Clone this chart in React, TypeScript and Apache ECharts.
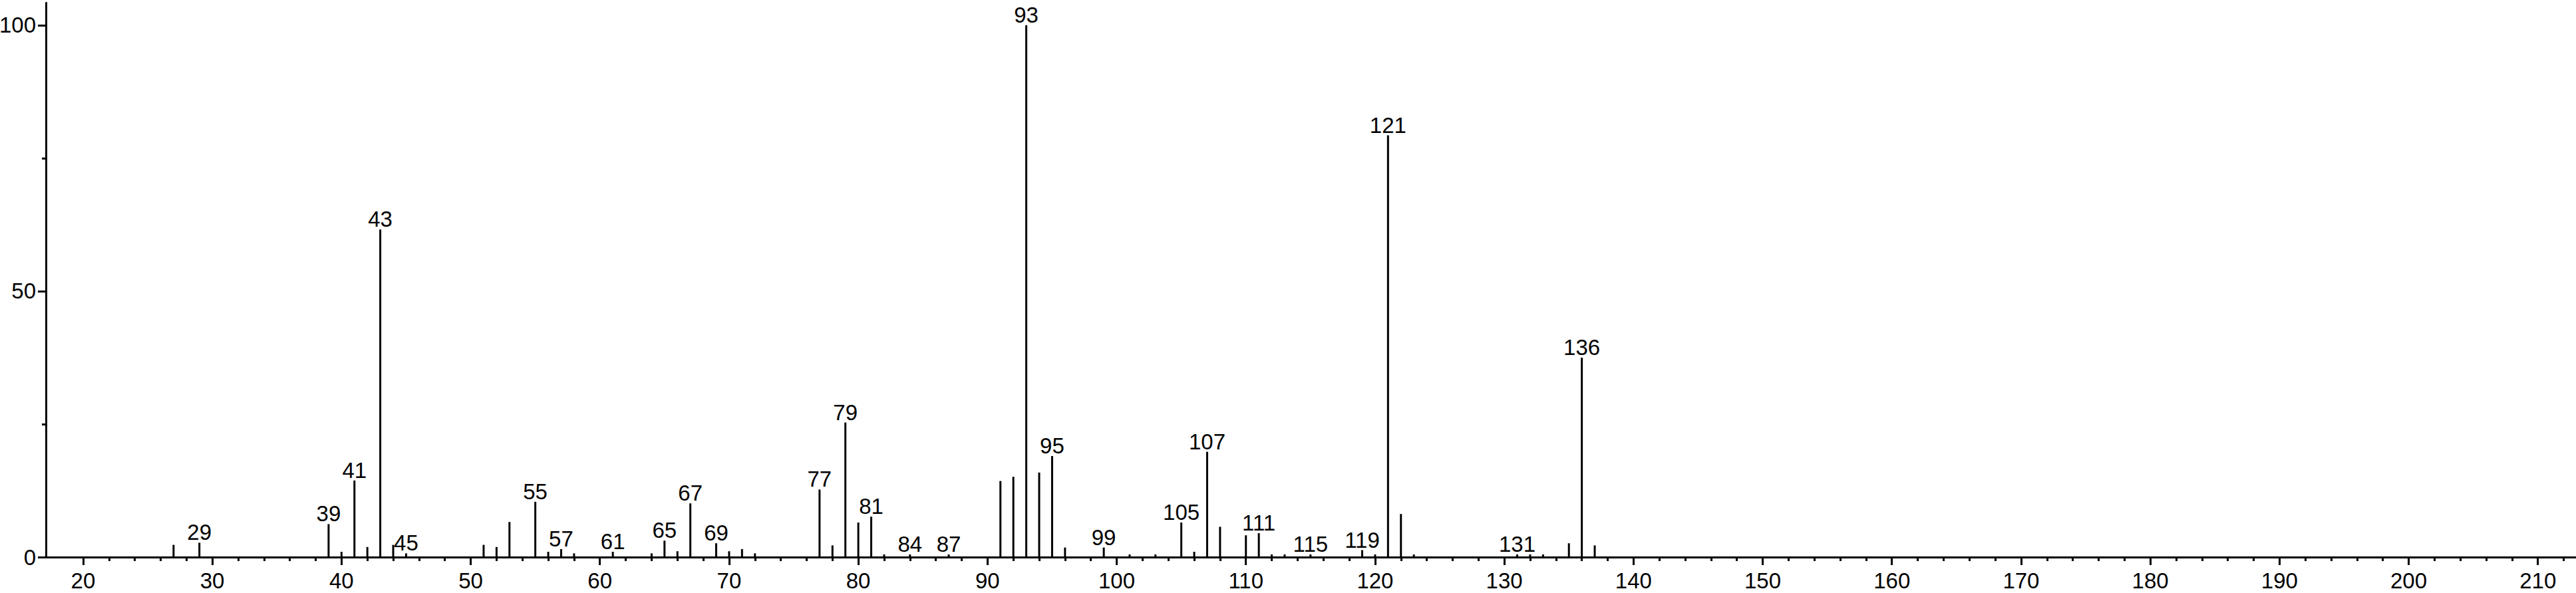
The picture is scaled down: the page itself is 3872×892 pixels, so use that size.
import React, { useEffect, useRef } from "react";
import * as echarts from "echarts";

// m/z values of the peaks
const mzValues = [
  27, 29, 39, 40, 41, 42, 43, 44, 45, 51, 52, 53, 55, 56, 57, 58, 61, 64, 65, 66,
  67, 69, 70, 71, 72, 77, 78, 79, 80, 81, 82, 84, 87, 91, 92, 93, 94, 95, 96, 99,
  101, 103, 105, 106, 107, 108, 110, 111, 112, 113, 115, 119, 120, 121, 122, 123,
  131, 132, 133, 135, 136, 137,
];
// relative intensities (%)
const intensities = [
  2.3, 2.7, 6.2, 1.0, 14.4, 1.9, 61.6, 2.3, 0.7, 2.3, 1.9, 6.6, 10.4, 1.0, 1.5, 0.7, 1.0, 0.7, 3.1, 1.1,
  10.1, 2.6, 1.1, 1.5, 0.7, 12.7, 2.2, 25.3, 6.5, 7.6, 0.5, 0.5, 0.5, 14.3, 15.1, 100, 15.9, 19.0, 1.8, 1.8,
  0.5, 0.5, 6.5, 1.0, 19.8, 5.7, 4.1, 4.5, 0.5, 0.5, 0.5, 1.3, 0.5, 79.3, 8.1, 0.5,
  0.5, 0.5, 0.5, 2.6, 37.5, 2.2,
];
// peaks that carry an m/z label
const labeledMz = [
  29, 39, 41, 43, 45, 55, 57, 61, 65, 67, 69, 77, 79, 81, 84, 87, 93, 95, 99, 105,
  107, 111, 115, 119, 121, 131, 136,
];
// axis ticks
const xMajorTicks = [20, 30, 40, 50, 60, 70, 80, 90, 100, 110, 120, 130, 140, 150, 160, 170, 180, 190, 200, 210];
const xMinorTicks = [
  22, 24, 26, 28, 32, 34, 36, 38, 42, 44, 46, 48, 52, 54, 56, 58, 62, 64, 66, 68,
  72, 74, 76, 78, 82, 84, 86, 88, 92, 94, 96, 98, 102, 104, 106, 108, 112, 114, 116, 118,
  122, 124, 126, 128, 132, 134, 136, 138, 142, 144, 146, 148, 152, 154, 156, 158,
  162, 164, 166, 168, 172, 174, 176, 178, 182, 184, 186, 188, 192, 194, 196, 198,
  202, 204, 206, 208, 212,
];
const yMajorTicks = [0, 50, 100];
const yMinorTicks = [25, 75];

const X_MIN = 17.12;
const X_MAX = 212.95;
const Y_MIN = 0;
const Y_MAX = 104.2;

const FONT = "'Liberation Sans', Arial, Helvetica, sans-serif";

export default function App() {
  const ref = useRef<HTMLDivElement>(null);

  useEffect(() => {
    if (!ref.current) return;
    const chart = echarts.init(ref.current, null, { renderer: "svg" });

    const data = mzValues.map((mz, i) => ({
      value: [mz, intensities[i]],
      label: { show: labeledMz.includes(mz) },
    }));

    const axisLineStyle = { color: "#000", width: 3 };

    chart.setOption({
      animation: false,
      backgroundColor: "#fff",
      grid: {
        left: 69,
        right: 0,
        top: 4.3,
        bottom: 54,
        containLabel: false,
        outerBoundsMode: "none",
      },
      xAxis: [
        {
          type: "value",
          min: X_MIN,
          max: X_MAX,
          position: "bottom",
          axisLine: { show: true, onZero: false, lineStyle: axisLineStyle },
          axisTick: {
            show: true,
            length: 12,
            lineStyle: { color: "#000", width: 3 },
            customValues: xMajorTicks,
          },
          axisLabel: {
            show: true,
            customValues: xMajorTicks,
            margin: 19,
            fontSize: 33,
            color: "#000",
            fontFamily: FONT,
          },
          splitLine: { show: false },
        },
        {
          type: "value",
          min: X_MIN,
          max: X_MAX,
          position: "bottom",
          axisLine: { show: false },
          axisTick: {
            show: true,
            length: 6,
            lineStyle: { color: "#000", width: 3 },
            customValues: xMinorTicks,
          },
          axisLabel: { show: false },
          splitLine: { show: false },
        },
      ],
      yAxis: [
        {
          type: "value",
          min: Y_MIN,
          max: Y_MAX,
          position: "left",
          axisLine: { show: true, onZero: false, lineStyle: axisLineStyle },
          axisTick: {
            show: true,
            length: 12,
            lineStyle: { color: "#000", width: 3 },
            customValues: yMajorTicks,
          },
          axisLabel: {
            show: true,
            customValues: yMajorTicks,
            margin: 15,
            fontSize: 33,
            color: "#000",
            fontFamily: FONT,
            padding: [8, 0, 0, 0],
          },
          splitLine: { show: false },
        },
        {
          type: "value",
          min: Y_MIN,
          max: Y_MAX,
          position: "left",
          axisLine: { show: false },
          axisTick: {
            show: true,
            length: 6,
            lineStyle: { color: "#000", width: 3 },
            customValues: yMinorTicks,
          },
          axisLabel: { show: false },
          splitLine: { show: false },
        },
      ],
      series: [
        {
          type: "bar",
          xAxisIndex: 0,
          yAxisIndex: 0,
          barWidth: 3,
          itemStyle: { color: "#000" },
          label: {
            show: false,
            position: "top",
            distance: -1,
            fontSize: 33,
            color: "#000",
            fontFamily: FONT,
            formatter: (p: any) => String(p.value[0]),
          },
          emphasis: { disabled: true },
          data,
        },
      ],
    });

    return () => chart.dispose();
  }, []);

  return (
    <div
      ref={ref}
      style={{ position: "fixed", left: 0, top: 0, width: "3872px", height: "892px" }}
    />
  );
}
